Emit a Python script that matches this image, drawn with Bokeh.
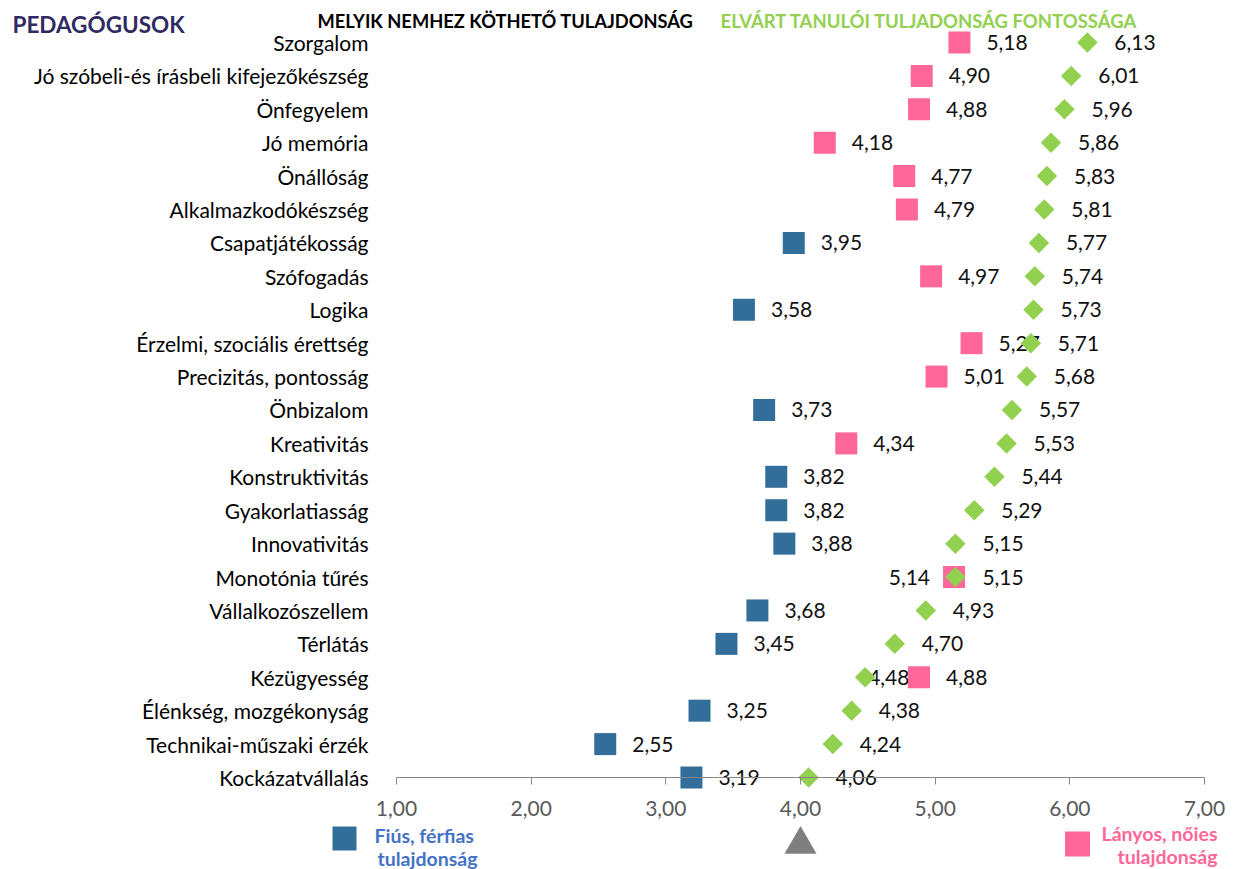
from bokeh.plotting import figure
from bokeh.models import ColumnDataSource, FixedTicker, Range1d, Label
from bokeh.core.properties import value
from bokeh.embed import file_html
from bokeh.resources import INLINE
import numpy as np

# ---------------- data ----------------
categories = [
    "Szorgalom", "Jó szóbeli-és írásbeli kifejezőkészség", "Önfegyelem", "Jó memória",
    "Önállóság", "Alkalmazkodókészség", "Csapatjátékosság", "Szófogadás", "Logika",
    "Érzelmi, szociális érettség", "Precizitás, pontosság", "Önbizalom", "Kreativitás",
    "Konstruktivitás", "Gyakorlatiasság", "Innovativitás", "Monotónia tűrés",
    "Vállalkozószellem", "Térlátás", "Kézügyesség", "Élénkség, mozgékonyság",
    "Technikai-műszaki érzék", "Kockázatvállalás",
]
gender_values = [5.18, 4.90, 4.88, 4.18, 4.77, 4.79, 3.95, 4.97, 3.58, 5.27, 5.01, 3.73,
                 4.34, 3.82, 3.82, 3.88, 5.14, 3.68, 3.45, 4.88, 3.25, 2.55, 3.19]
importance_values = [6.13, 6.01, 5.96, 5.86, 5.83, 5.81, 5.77, 5.74, 5.73, 5.71, 5.68, 5.57,
                     5.53, 5.44, 5.29, 5.15, 5.15, 4.93, 4.70, 4.48, 4.38, 4.24, 4.06]
x_ticks = [1, 2, 3, 4, 5, 6, 7]
x_tick_labels = ["1,00", "2,00", "3,00", "4,00", "5,00", "6,00", "7,00"]
neutral_value = 4.0
left_label_categories = ["Monotónia tűrés"]      # gender label placed left of its square
tight_label_categories = ["Kézügyesség"]          # importance label placed close to its diamond

title_text = "PEDAGÓGUSOK"
header_gender = "MELYIK NEMHEZ KÖTHETŐ TULAJDONSÁG"
header_importance = "ELVÁRT TANULÓI TULJADONSÁG FONTOSSÁGA"
legend_male = ["Fiús, férfias", "tulajdonság"]
legend_female = ["Lányos, nőies", "tulajdonság"]

# ---------------- styles ----------------
BLUE = "#336E9B"
PINK = "#FF6699"
GREEN = "#92D050"
GRAY = "#7F7F7F"
FONT = "Lato"
FS = "21px"

def fmt(v):
    return f"{v:.2f}".replace(".", ",")

n = len(categories)
ys = [n - 1 - i for i in range(n)]

# pixel geometry (page coords) -> data helpers
PX_X1, PX_PER_X = 396.0, 134.67
PX_Y0, PX_PER_Y = 777.0, 33.41
def dx(px):
    return 1 + (px - PX_X1) / PX_PER_X
def dy(py):
    return (PX_Y0 - py) / PX_PER_Y

W, H = 1235, 869
p = figure(width=W, height=H, output_backend="svg", toolbar_location=None,
           x_range=Range1d(dx(0), dx(W)), y_range=Range1d(dy(H), dy(0)),
           min_border=0, min_border_left=0, min_border_right=0,
           min_border_top=0, min_border_bottom=0)
p.outline_line_color = None
p.xgrid.visible = False
p.ygrid.visible = False
p.background_fill_color = "white"
p.border_fill_color = "white"

# x axis at the last row
xa = p.xaxis[0]
xa.fixed_location = ys[-1]
xa.bounds = (x_ticks[0], x_ticks[-1])
xa.ticker = FixedTicker(ticks=x_ticks)
xa.major_label_overrides = {t: l for t, l in zip(x_ticks, x_tick_labels)}
xa.axis_line_color = "#868686"
xa.axis_line_width = 1
xa.major_tick_line_color = "#868686"
xa.major_tick_in = 0
xa.major_tick_out = 7
xa.minor_tick_line_color = None
xa.major_label_standoff = 16
xa.major_label_text_font = FONT
xa.major_label_text_font_size = FS
xa.major_label_text_color = "#595959"

# y axis with category names
ya = p.yaxis[0]
ya.fixed_location = x_ticks[0]
ya.ticker = FixedTicker(ticks=ys)
ya.major_label_overrides = {y: c for y, c in zip(ys, categories)}
ya.axis_line_color = None
ya.major_tick_line_color = None
ya.major_tick_in = 0
ya.major_tick_out = 0
ya.minor_tick_line_color = None
ya.minor_tick_in = 0
ya.minor_tick_out = 0
ya.major_label_standoff = 28
ya.major_label_text_font = FONT
ya.major_label_text_font_size = FS
ya.major_label_text_color = "#000000"

g_colors = [BLUE if g < neutral_value else PINK for g in gender_values]
is_left = [c in left_label_categories for c in categories]
imp_offsets = [3 if c in tight_label_categories else 27 for c in categories]

src = ColumnDataSource(dict(
    y=ys, g=gender_values, imp=importance_values, gcol=g_colors,
    glbl=[fmt(v) for v in gender_values], ilbl=[fmt(v) for v in importance_values],
    ioff=imp_offsets,
))
src_g_right = ColumnDataSource(dict(
    y=[y for y, l in zip(ys, is_left) if not l],
    g=[g for g, l in zip(gender_values, is_left) if not l],
    glbl=[fmt(g) for g, l in zip(gender_values, is_left) if not l],
))
src_g_left = ColumnDataSource(dict(
    y=[y for y, l in zip(ys, is_left) if l],
    g=[g for g, l in zip(gender_values, is_left) if l],
    glbl=[fmt(g) for g, l in zip(gender_values, is_left) if l],
))

txt = dict(text_font=value(FONT), text_font_size=FS, text_color="#111111",
           text_baseline="middle")

# importance labels
p.text(x="imp", y="y", text="ilbl", source=src, x_offset="ioff", text_align="left", **txt)
# gender squares
p.scatter(x="g", y="y", source=src, marker="square", size=22,
          fill_color="gcol", line_color=None)
# gender labels
p.text(x="g", y="y", text="glbl", source=src_g_right, x_offset=27, text_align="left", **txt)
p.text(x="g", y="y", text="glbl", source=src_g_left, x_offset=-24, text_align="right", **txt)
# importance diamonds
p.scatter(x="imp", y="y", source=src, marker="square", angle=np.pi / 4, size=14.5,
          fill_color=GREEN, line_color=None)

# legend marks
p.scatter(x=[dx(344)], y=[dy(838)], marker="square", size=24, fill_color=BLUE, line_color=None)
p.scatter(x=[dx(1077)], y=[dy(843.5)], marker="square", size=25, fill_color=PINK, line_color=None)
p.scatter(x=[neutral_value], y=[dy(844)], marker="triangle", size=32, fill_color=GRAY, line_color=None)

def label(text, x, y, color, size, align="left", bold=True):
    p.add_layout(Label(x=x, y=y, text=text, text_color=color, text_font=FONT,
                       text_font_size=size, text_font_style="bold" if bold else "normal",
                       text_align=align, text_baseline="middle"))

label(title_text, dx(12), dy(24), "#2F2A62", "22.5px")
label(header_gender, dx(317), dy(20), "#000000", "18.3px")
label(header_importance, dx(720), dy(20), GREEN, "18.5px")
label(legend_male[0], dx(374), dy(835), "#4472C4", "19.5px")
label(legend_male[1], dx(377), dy(858), "#4472C4", "19.5px")
label(legend_female[0], dx(1217), dy(832.5), PINK, "19.5px", align="right")
label(legend_female[1], dx(1217), dy(856), PINK, "19.5px", align="right")

open("out.html", "w").write(file_html(p, INLINE))
